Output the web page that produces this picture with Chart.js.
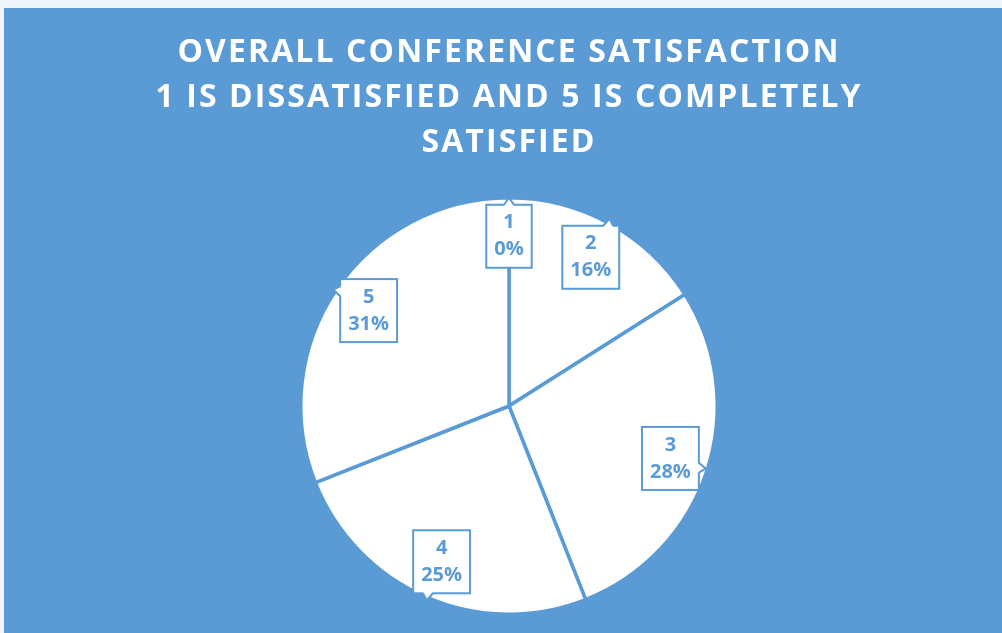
<!DOCTYPE html>
<html><head><meta charset="utf-8">
<script src="https://cdn.jsdelivr.net/npm/chart.js@4.4.1/dist/chart.umd.min.js"></script>
<style>
html,body{margin:0;padding:0;background:#EEF5FB;width:1002px;height:633px;overflow:hidden}
#wrap{position:absolute;left:4px;top:8px;width:998px;height:625px;background:#5B9BD5}
canvas{display:block}
</style></head><body>
<div id="wrap"><canvas id="c" width="998" height="625"></canvas></div>
<script>
const categories = ['1', '2', '3', '4', '5'];
const percentages = [0, 16, 28, 25, 31];
const titleLines = ['OVERALL CONFERENCE SATISFACTION', '1 IS DISSATISFIED AND 5 IS COMPLETELY', 'SATISFIED'];

const BLUE = '#5B9BD5';
const FONT = "'Open Sans', 'DejaVu Sans', sans-serif";

const calloutPlugin = {
  id: 'callouts',
  beforeDraw(chart) { chart.ctx.letterSpacing = '2.1px'; },
  beforeDatasetsDraw(chart) { chart.ctx.letterSpacing = '0px'; },
  afterDatasetsDraw(chart) {
    const ctx = chart.ctx;
    const meta = chart.getDatasetMeta(0);
    const data = chart.data.datasets[0].data;
    const total = data.reduce((a, b) => a + b, 0);
    ctx.save();
    ctx.letterSpacing = '0px';
    ctx.font = 'bold 20px ' + FONT;
    meta.data.forEach((arc, i) => {
      const p = arc.getProps(['x', 'y', 'startAngle', 'endAngle', 'outerRadius'], true);
      const mid = (p.startAngle + p.endAngle) / 2;
      const r = p.outerRadius * 0.815;
      const cx = p.x + Math.cos(mid) * r, cy = p.y + Math.sin(mid) * r;
      const l1 = chart.data.labels[i];
      const l2 = Math.round(data[i] / total * 100) + '%';
      const w = Math.max(ctx.measureText(l1).width, ctx.measureText(l2).width) + 16;
      const h = 63;
      const x0 = cx - w / 2, y0 = cy - h / 2;
      ctx.fillStyle = '#fff';
      ctx.strokeStyle = BLUE;
      ctx.lineWidth = 2;
      ctx.fillRect(x0, y0, w, h);
      ctx.strokeRect(x0, y0, w, h);
      // callout notch pointing outward
      const dx = Math.cos(mid), dy = Math.sin(mid);
      const tx = Math.abs(dx) > 1e-6 ? (w / 2) / Math.abs(dx) : Infinity;
      const ty = Math.abs(dy) > 1e-6 ? (h / 2) / Math.abs(dy) : Infinity;
      let ex, ey, ux, uy, nx, ny;
      if (tx < ty) {
        ex = cx + dx * tx; ey = Math.min(Math.max(cy + dy * tx, y0 + 8), y0 + h - 8);
        ux = 0; uy = 1; nx = Math.sign(dx); ny = 0;
      } else {
        ex = Math.min(Math.max(cx + dx * ty, x0 + 8), x0 + w - 8); ey = cy + dy * ty;
        ux = 1; uy = 0; nx = 0; ny = Math.sign(dy);
      }
      const b = 5, t = 7;
      const ax = ex - ux * b, ay = ey - uy * b, bx = ex + ux * b, by = ey + uy * b;
      const tipx = ex + nx * t + (ux ? dx * 3 : 0);
      const tipy = ey + ny * t + (uy ? dy * 3 : 0);
      ctx.beginPath();
      ctx.moveTo(ax - nx * 1.5, ay - ny * 1.5);
      ctx.lineTo(tipx, tipy);
      ctx.lineTo(bx - nx * 1.5, by - ny * 1.5);
      ctx.closePath();
      ctx.fill();
      ctx.beginPath();
      ctx.moveTo(ax, ay);
      ctx.lineTo(tipx, tipy);
      ctx.lineTo(bx, by);
      ctx.stroke();
      ctx.fillStyle = BLUE;
      ctx.textAlign = 'center';
      ctx.textBaseline = 'middle';
      ctx.fillText(l1, cx, cy - 13.5);
      ctx.fillText(l2, cx, cy + 13.5);
    });
    ctx.restore();
  }
};

new Chart(document.getElementById('c'), {
  type: 'pie',
  data: {
    labels: categories,
    datasets: [{
      data: percentages,
      backgroundColor: '#FFFFFF',
      borderColor: BLUE,
      borderWidth: 3.5
    }]
  },
  options: {
    responsive: false,
    animation: false,
    layout: { padding: { left: 12, right: 0, top: 0, bottom: 17 } },
    plugins: {
      legend: { display: false },
      tooltip: { enabled: false },
      title: {
        display: true,
        text: titleLines,
        color: '#FFFFFF',
        font: { family: FONT, size: 32, weight: 'bold', lineHeight: 45 / 32 },
        padding: { top: 22.5, bottom: 30.5 }
      }
    }
  },
  plugins: [calloutPlugin]
});
</script>
</body></html>
